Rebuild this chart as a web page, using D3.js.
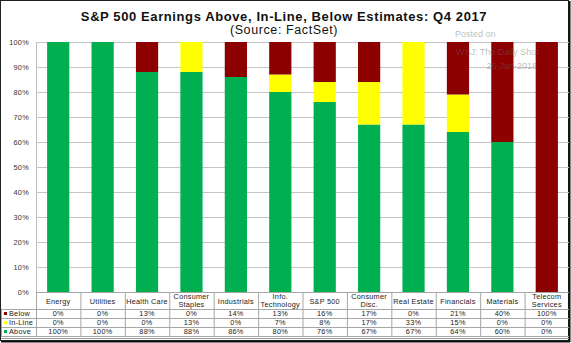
<!DOCTYPE html>
<html>
<head>
<meta charset="utf-8">
<script src="https://cdn.jsdelivr.net/npm/d3@7"></script>
<style>
  body { margin: 0; background: #fff; }
  svg { display: block; font-family: "Liberation Sans", Arial, sans-serif; }
</style>
</head>
<body>
<svg></svg>
<script>
// DATA
const SECTORS = ["Energy", "Utilities", "Health Care", "Consumer Staples", "Industrials",
  "Info. Technology", "S&P 500", "Consumer Disc.", "Real Estate", "Financials",
  "Materials", "Telecom Services"];
const SECTOR_LINES = [["Energy"], ["Utilities"], ["Health Care"], ["Consumer", "Staples"],
  ["Industrials"], ["Info.", "Technology"], ["S&P 500"], ["Consumer", "Disc."],
  ["Real Estate"], ["Financials"], ["Materials"], ["Telecom", "Services"]];
const BELOW  = [0, 0, 13, 0, 14, 13, 16, 17, 0, 21, 40, 100];
const INLINE = [0, 0, 0, 13, 0, 7, 8, 17, 33, 15, 0, 0];
const ABOVE  = [100, 100, 88, 88, 86, 80, 76, 67, 67, 64, 60, 0];
const Y_TICKS = [0, 10, 20, 30, 40, 50, 60, 70, 80, 90, 100];

// LAYOUT
const W = 571, H = 343;
const PLOT = {left: 36, right: 569, top: 42, bottom: 292};
const ROW_TOP = [292, 309, 318, 327, 336]; // header, below, in-line, above
const COLORS = {below: "#8c0000", inline: "#ffff00", above: "#00b050"};
const SMALL = 7.3; // table / axis text size

const svg = d3.select("svg").attr("width", W).attr("height", H);

const x = d3.scaleBand().domain(SECTORS).range([PLOT.left, PLOT.right])
  .paddingInner(0.5).paddingOuter(0.25);
const col = d3.scaleBand().domain(SECTORS).range([PLOT.left, PLOT.right]);
const y = d3.scaleLinear().domain([0, 100]).range([PLOT.bottom, PLOT.top]);

// outer frame with a heavier right/bottom edge
svg.append("rect").attr("x", 0.5).attr("y", 0.5).attr("width", 568).attr("height", 340)
  .attr("fill", "none").attr("stroke", "#222").attr("stroke-width", 1);
svg.append("line").attr("x1", 569.5).attr("x2", 569.5).attr("y1", 1).attr("y2", 342)
  .attr("stroke", "#111").attr("stroke-width", 2);
svg.append("line").attr("x1", 1).attr("x2", 570).attr("y1", 341.5).attr("y2", 341.5)
  .attr("stroke", "#111").attr("stroke-width", 2);
svg.append("line").attr("x1", 1).attr("x2", 569).attr("y1", 338.5).attr("y2", 338.5)
  .attr("stroke", "#999").attr("stroke-width", 1);

// titles
svg.append("text").attr("x", 284).attr("y", 21).attr("text-anchor", "middle")
  .attr("font-size", 13).attr("font-weight", "bold").attr("letter-spacing", 0.6)
  .attr("fill", "#111")
  .text("S&P 500 Earnings Above, In-Line, Below Estimates: Q4 2017");
svg.append("text").attr("x", 284).attr("y", 34).attr("text-anchor", "middle")
  .attr("font-size", 12.5).attr("letter-spacing", 0.6).attr("fill", "#111")
  .text("(Source: FactSet)");

// gridlines + y axis
const yAxis = d3.axisLeft(y).tickValues(Y_TICKS).tickFormat(d => d + "%")
  .tickSize(-(PLOT.right - PLOT.left)).tickPadding(7);
const gy = svg.append("g").attr("transform", `translate(${PLOT.left},0)`).call(yAxis);
gy.select(".domain").attr("stroke", "#bdbdbd");
gy.selectAll(".tick line").attr("stroke", "#c4c4c4").attr("stroke-width", 1.2);
gy.selectAll(".tick text").attr("font-size", SMALL).attr("letter-spacing", 0.3).attr("fill", "#333")
  .attr("font-family", "'Liberation Sans', Arial, sans-serif");

// stacked bars: above from 0, in-line on top, below capped at 100%
const rows = SECTORS.map((s, i) => ({sector: s, above: ABOVE[i], inline: INLINE[i], below: BELOW[i]}));
const segs = [];
rows.forEach(r => {
  let base = 0;
  ["above", "inline", "below"].forEach(k => {
    const top = Math.min(100, base + r[k]);
    if (top > base) segs.push({sector: r.sector, key: k, y0: base, y1: top});
    base = top;
  });
});

svg.append("g").selectAll("rect").data(segs).join("rect")
  .attr("x", d => x(d.sector))
  .attr("width", x.bandwidth())
  .attr("y", d => y(d.y1))
  .attr("height", d => y(d.y0) - y(d.y1))
  .attr("fill", d => COLORS[d.key]);

// data table under the chart
const table = svg.append("g").attr("font-size", SMALL).attr("letter-spacing", 0.25);
const lineColor = "#a6a6a6";
// horizontal rules
table.append("line").attr("x1", PLOT.left).attr("x2", PLOT.right)
  .attr("y1", ROW_TOP[0] + 0.5).attr("y2", ROW_TOP[0] + 0.5).attr("stroke", lineColor);
ROW_TOP.slice(1).forEach(yy => {
  table.append("line").attr("x1", 1).attr("x2", PLOT.right)
    .attr("y1", yy + 0.5).attr("y2", yy + 0.5).attr("stroke", lineColor);
});
// vertical rules
SECTORS.forEach(s => {
  table.append("line").attr("x1", col(s) + 0.5).attr("x2", col(s) + 0.5)
    .attr("y1", ROW_TOP[0]).attr("y2", ROW_TOP[4]).attr("stroke", lineColor);
});
table.append("line").attr("x1", 1.5).attr("x2", 1.5)
  .attr("y1", ROW_TOP[1]).attr("y2", ROW_TOP[4]).attr("stroke", lineColor);

// category headers
SECTOR_LINES.forEach((lines, i) => {
  const cx = col(SECTORS[i]) + col.bandwidth() / 2;
  const t = table.append("text").attr("x", cx).attr("text-anchor", "middle").attr("fill", "#222");
  if (lines.length === 1) {
    t.attr("y", 303.5).text(lines[0]);
  } else {
    t.append("tspan").attr("x", cx).attr("y", 299).text(lines[0]);
    t.append("tspan").attr("x", cx).attr("y", 306.5).text(lines[1]);
  }
});

// series rows
const series = [
  {name: "Below", key: "below", values: BELOW},
  {name: "In-Line", key: "inline", values: INLINE},
  {name: "Above", key: "above", values: ABOVE}
];
series.forEach((s, r) => {
  const top = ROW_TOP[r + 1], mid = (top + ROW_TOP[r + 2]) / 2;
  table.append("rect").attr("x", 4).attr("y", mid - 1.5).attr("width", 3).attr("height", 3)
    .attr("fill", COLORS[s.key]);
  table.append("text").attr("x", 9).attr("y", mid + 2.5).attr("fill", "#222").text(s.name);
  table.selectAll(null).data(s.values).join("text")
    .attr("x", (d, i) => col(SECTORS[i]) + col.bandwidth() / 2)
    .attr("y", mid + 2.5)
    .attr("text-anchor", "middle").attr("fill", "#222")
    .text(d => d + "%");
});

// stamp
const stamp = svg.append("g").attr("fill", "#666").attr("fill-opacity", 0.45).attr("font-size", 9);
stamp.append("text").attr("x", 455).attr("y", 37).text("Posted on");
stamp.append("text").attr("x", 456).attr("y", 55).text("WSJ: The Daily Shot");
stamp.append("text").attr("x", 537).attr("y", 69).attr("text-anchor", "end").text("26-Jan-2018");
</script>
</body>
</html>
